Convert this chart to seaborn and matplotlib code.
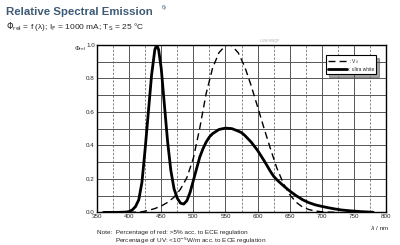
import numpy as np
import pandas as pd
import seaborn as sns
import matplotlib.pyplot as plt

#_____ data _____
wl_white = [360, 380, 395, 400, 405, 410, 415, 420, 425, 430, 435, 440, 443, 446, 450, 455, 460,
            465, 470, 475, 480, 485, 490, 495, 500, 505, 510, 515, 520, 525, 530, 540, 550, 560,
            570, 575, 580, 590, 600, 610, 620, 625, 630, 640, 650, 660, 670, 680, 690, 700, 710,
            720, 730, 740, 750, 760, 770, 780]
ultra_white = [0.0, 0.0, 0.002, 0.005, 0.015, 0.035, 0.075, 0.18, 0.38, 0.6, 0.82, 0.97, 1.0, 0.97,
               0.86, 0.64, 0.42, 0.25, 0.14, 0.085, 0.055, 0.05, 0.07, 0.12, 0.19, 0.26, 0.33, 0.38,
               0.42, 0.45, 0.47, 0.495, 0.503, 0.5, 0.485, 0.476, 0.46, 0.42, 0.37, 0.31, 0.245,
               0.216, 0.195, 0.16, 0.128, 0.1, 0.076, 0.058, 0.045, 0.036, 0.028, 0.021, 0.015,
               0.011, 0.008, 0.005, 0.003, 0.001]

wl_v = [400, 410, 420, 430, 440, 450, 460, 470, 480, 490, 500, 510, 520, 530, 540, 550, 555, 560,
        570, 580, 590, 600, 610, 620, 630, 640, 650, 660, 670, 680, 690, 700, 710, 720]
v_lambda = [0.0004, 0.0012, 0.004, 0.0116, 0.023, 0.038, 0.06, 0.091, 0.139, 0.208, 0.323, 0.503,
            0.71, 0.862, 0.954, 0.995, 1.0, 0.995, 0.952, 0.87, 0.757, 0.631, 0.503, 0.381, 0.265,
            0.175, 0.107, 0.061, 0.032, 0.017, 0.0082, 0.0041, 0.0021, 0.001]

x_ticks = [350, 400, 450, 500, 550, 600, 650, 700, 750, 800]
y_ticks = [0.0, 0.2, 0.4, 0.6, 0.8, 1.0]

#_____ style _____
sns.set_style("white")
plt.rcParams['font.family'] = ['Liberation Sans', 'DejaVu Sans']

fig = plt.figure(figsize=(4, 2.45), dpi=100)
ax = fig.add_axes([0.2425, 0.133, 0.7225, 0.684])

#_____ grid: solid every 50 nm / 0.1, dashed in between _____
for x in range(375, 800, 50):
    ax.axvline(x, color='#666666', lw=0.55, ls=(0, (3, 2)), zorder=1)
for x in range(400, 800, 50):
    ax.axvline(x, color='#555555', lw=0.7, zorder=1)
for y in np.arange(0.1, 1.0, 0.1):
    ax.axhline(y, color='#555555', lw=0.7, zorder=1)

sns.lineplot(x=wl_v, y=v_lambda, ax=ax, color='black', lw=1.0, ls=(0, (5, 3)),
             label=': V$_\\lambda$', zorder=3)
sns.lineplot(x=wl_white, y=ultra_white, ax=ax, color='black', lw=2.0,
             label=': ultra white', zorder=4)

ax.set_xlim(350, 800)
ax.set_ylim(0, 1.0)
ax.set_xticks(x_ticks)
ax.set_yticks(y_ticks)
ax.set_yticklabels([f"{v:.1f}" for v in y_ticks])
ax.tick_params(labelsize=4.5, length=0, pad=1.5)
ax.set_xlabel("")
ax.set_ylabel("")
for s in ax.spines.values():
    s.set_color('black')
    s.set_linewidth(1.0)

leg = ax.legend(loc='upper right', bbox_to_anchor=(0.975, 0.955), fontsize=3.5, frameon=True,
                fancybox=False, shadow=True, handlelength=4, borderpad=0.45, labelspacing=0.2,
                handletextpad=0.3)
leg.get_frame().set_edgecolor('black')
leg.get_frame().set_linewidth(0.8)

#_____ texts _____
fig.text(0.016, 0.952, "Relative Spectral Emission", fontsize=8.2, fontweight='bold',
         color='#3d5a74', va='center')
fig.text(0.405, 0.968, "6)", fontsize=4, color='#3d5a74', va='center')
fig.text(0.016, 0.893, "$\\Phi_{\\rm rel}$ = f (\u03bb); I$_{\\rm F}$ = 1000 mA; T$_{\\rm S}$ = 25 \u00b0C",
         fontsize=6, va='center')
fig.text(0.186, 0.8, "$\\Phi_{\\rm rel}$", fontsize=4.5, va='center')
fig.text(0.925, 0.068, "$\\lambda$ / nm", fontsize=4.5, va='center')
fig.text(0.65, 0.832, "LUW HWQP", fontsize=2.5, color='#aaaaaa', va='center')
fig.text(0.243, 0.05, "Note:  Percentage of red: >5% acc. to ECE regulation", fontsize=4.6,
         va='center')
fig.text(0.288, 0.018, "Percentage of UV: <10$^{-5}$W/m acc. to ECE regulation", fontsize=4.6,
         va='center')

fig.savefig("out.png", dpi=100)
